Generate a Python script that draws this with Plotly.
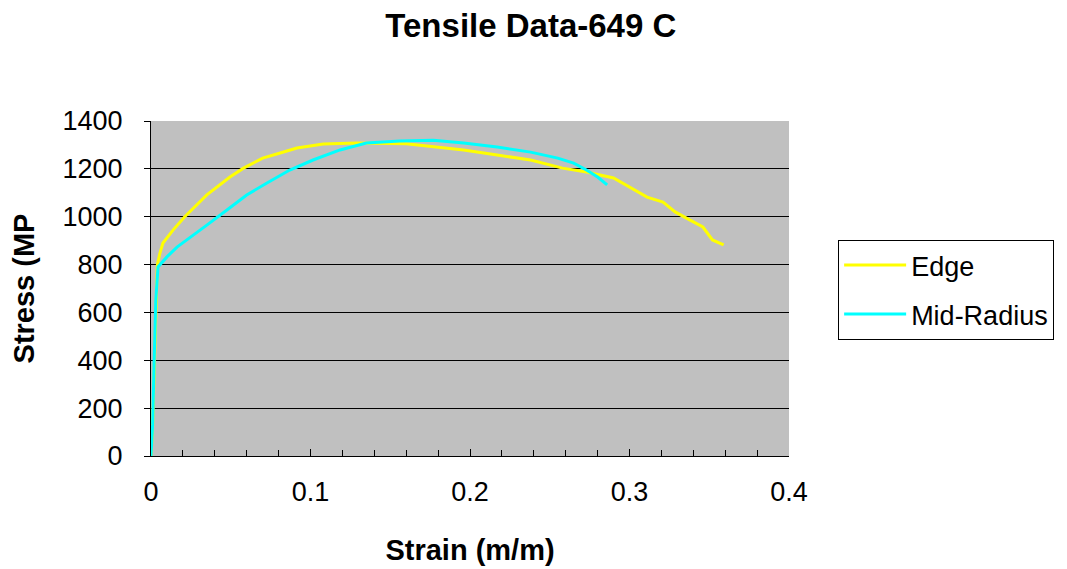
import plotly.graph_objects as go

# Edge specimen (yellow)
edge_strain = [0.0, 0.001, 0.002, 0.003, 0.004, 0.0056, 0.0075, 0.0138, 0.021, 0.035,
               0.0495, 0.058, 0.070, 0.081, 0.0915, 0.108, 0.129, 0.160, 0.175, 0.196,
               0.217, 0.238, 0.258, 0.273, 0.290, 0.300, 0.311, 0.321, 0.3286, 0.338,
               0.346, 0.352, 0.359]
edge_stress = [0, 120, 350, 620, 800, 848, 890, 944, 999, 1091,
               1166, 1203, 1245, 1266, 1287, 1304, 1308, 1305, 1295, 1279,
               1258, 1237, 1203, 1187, 1162, 1124, 1082, 1061, 1020, 986,
               957, 903, 882]

# Mid-radius specimen (cyan)
mid_strain = [0.0, 0.001, 0.002, 0.003, 0.0044, 0.010, 0.0163, 0.0245, 0.035, 0.0476,
              0.060, 0.0727, 0.087, 0.1016, 0.1185, 0.135, 0.156, 0.177, 0.196, 0.217,
              0.238, 0.255, 0.265, 0.273, 0.280, 0.286]
mid_stress = [0, 130, 400, 650, 790, 832, 873, 915, 965, 1028,
              1091, 1141, 1195, 1237, 1279, 1308, 1316, 1320, 1308, 1291,
              1270, 1245, 1224, 1195, 1166, 1133]

x_ticks = [0, 0.1, 0.2, 0.3, 0.4]
x_labels = ["0", "0.1", "0.2", "0.3", "0.4"]
y_ticks = [0, 200, 400, 600, 800, 1000, 1200, 1400]
y_grid = [200, 400, 600, 800, 1000, 1200]

FONT = "Liberation Sans, Arial, sans-serif"

fig = go.Figure()
fig.add_trace(go.Scatter(x=edge_strain, y=edge_stress, mode="lines", name="Edge",
                         legendgroup="edge",
                         line=dict(color="#FFFF00", width=3)))
fig.add_trace(go.Scatter(x=mid_strain, y=mid_stress, mode="lines", name="Mid-Radius",
                         legendgroup="mid",
                         line=dict(color="#00FFFF", width=3)))

# the page body adds an 8px offset, so margins are shifted to compensate
fig.update_layout(
    width=1067,
    height=569,
    autosize=False,
    margin=dict(l=143, r=286, t=113, b=121),
    paper_bgcolor="white",
    plot_bgcolor="#C0C0C0",
    font=dict(family=FONT, color="black", size=27),
    title=dict(text="<b>Tensile Data-649 C</b>", x=0.49, xanchor="center",
               y=0.97, yanchor="middle", font=dict(size=33)),
    legend=dict(x=1.077, y=0.645, xanchor="left", yanchor="top",
                bordercolor="black", borderwidth=1, bgcolor="white",
                font=dict(size=27), tracegroupgap=11,
                itemwidth=62),
    showlegend=True,
)
fig.update_xaxes(
    range=[0, 0.4], tickvals=x_ticks, ticktext=x_labels,
    showgrid=False, zeroline=False,
    showline=True, linecolor="black", linewidth=1,
    ticks="inside", ticklen=7, tickcolor="black",
    minor=dict(dtick=0.02, ticks="inside", ticklen=6, tickcolor="black", showgrid=False),
    ticklabelstandoff=12,
    title=dict(text="<b>Strain (m/m)</b>", standoff=33, font=dict(size=29)),
)
fig.update_yaxes(
    range=[0, 1400], tickvals=y_ticks,
    showgrid=False, zeroline=False,
    showline=True, linecolor="black", linewidth=1,
    ticks="outside", ticklen=6, tickcolor="black",
    minor=dict(tickvals=y_grid, ticks="", showgrid=True, gridcolor="black", gridwidth=1),
    ticklabelstandoff=16,
    title=dict(text="<b>Stress (MP</b>", standoff=20, font=dict(size=29)),
)

fig.write_html("out.html")
